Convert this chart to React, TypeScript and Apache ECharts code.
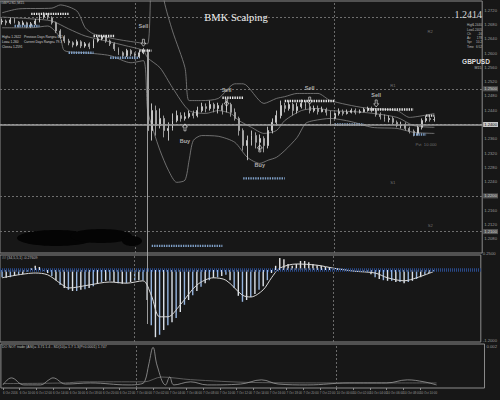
import React, { useEffect, useRef } from 'react';
import * as echarts from 'echarts';

const BG = '#171717';

// ---- time axis (M30 bars, weekend skipped after bar 80) ----
const firstBarUtc = Date.UTC(2016, 9, 6, 8, 0);
const barMinutes = 30;
const mondayBar = 80;
const slotCount = 116;
const pad = (n: number) => String(n).padStart(2, '0');
const categories: string[] = Array.from({ length: slotCount }, (_, i) => {
  const t = new Date(firstBarUtc + i * barMinutes * 60000 + (i >= mondayBar ? 2 * 86400000 : 0));
  return `${t.getUTCDate()} Oct ${pad(t.getUTCHours())}:${pad(t.getUTCMinutes())}`;
});
const daySeparators = [32, 80];
const lastLabelBar = 104;

// ---- price bars [open, close, low, high] ----
const bars: number[][] = [
  [1.2688, 1.2690, 1.2680, 1.2697], [1.2690, 1.2685, 1.2678, 1.2694], [1.2685, 1.2693, 1.2681, 1.2699],
  [1.2693, 1.2687, 1.2683, 1.2698], [1.2687, 1.2679, 1.2672, 1.2690], [1.2679, 1.2685, 1.2674, 1.2691],
  [1.2685, 1.2676, 1.2670, 1.2688], [1.2676, 1.2682, 1.2671, 1.2687], [1.2682, 1.2690, 1.2678, 1.2696],
  [1.2690, 1.2701, 1.2686, 1.2707], [1.2701, 1.2707, 1.2696, 1.2714], [1.2707, 1.2699, 1.2694, 1.2712],
  [1.2699, 1.2685, 1.2680, 1.2703], [1.2685, 1.2662, 1.2656, 1.2688], [1.2662, 1.2646, 1.2640, 1.2667],
  [1.2646, 1.2634, 1.2628, 1.2650], [1.2634, 1.2629, 1.2622, 1.2640], [1.2629, 1.2623, 1.2616, 1.2633],
  [1.2623, 1.2632, 1.2619, 1.2638], [1.2632, 1.2620, 1.2614, 1.2636], [1.2620, 1.2626, 1.2615, 1.2631],
  [1.2626, 1.2618, 1.2611, 1.2630], [1.2618, 1.2634, 1.2614, 1.2639], [1.2634, 1.2640, 1.2630, 1.2646],
  [1.2640, 1.2646, 1.2636, 1.2651], [1.2646, 1.2634, 1.2629, 1.2650], [1.2634, 1.2626, 1.2620, 1.2638],
  [1.2626, 1.2612, 1.2606, 1.2630], [1.2612, 1.2601, 1.2595, 1.2616], [1.2601, 1.2593, 1.2586, 1.2605],
  [1.2593, 1.2607, 1.2589, 1.2612], [1.2607, 1.2598, 1.2592, 1.2611], [1.2598, 1.2590, 1.2583, 1.2602],
  [1.2590, 1.2601, 1.2586, 1.2606], [1.2601, 1.2609, 1.2597, 1.2614], [1.2609, 1.2383, 1.1841, 1.2612],
  [1.2383, 1.2439, 1.2355, 1.2459], [1.2439, 1.2397, 1.2369, 1.2453], [1.2397, 1.2417, 1.2389, 1.2445],
  [1.2417, 1.2383, 1.2364, 1.2425], [1.2383, 1.2389, 1.2355, 1.2406], [1.2389, 1.2411, 1.2383, 1.2431],
  [1.2411, 1.2425, 1.2406, 1.2439], [1.2425, 1.2417, 1.2408, 1.2434], [1.2417, 1.2422, 1.2411, 1.2434],
  [1.2422, 1.2431, 1.2417, 1.2439], [1.2431, 1.2425, 1.2417, 1.2439], [1.2425, 1.2439, 1.2420, 1.2450],
  [1.2439, 1.2450, 1.2434, 1.2461], [1.2450, 1.2445, 1.2434, 1.2459], [1.2445, 1.2456, 1.2439, 1.2467],
  [1.2456, 1.2445, 1.2434, 1.2461], [1.2445, 1.2453, 1.2431, 1.2461], [1.2453, 1.2439, 1.2428, 1.2459],
  [1.2439, 1.2456, 1.2434, 1.2467], [1.2456, 1.2434, 1.2422, 1.2461], [1.2434, 1.2417, 1.2411, 1.2445],
  [1.2417, 1.2383, 1.2369, 1.2422], [1.2383, 1.2341, 1.2327, 1.2389], [1.2341, 1.2355, 1.2300, 1.2369],
  [1.2355, 1.2369, 1.2341, 1.2383], [1.2369, 1.2350, 1.2333, 1.2378], [1.2350, 1.2361, 1.2327, 1.2372],
  [1.2361, 1.2341, 1.2322, 1.2367], [1.2341, 1.2383, 1.2333, 1.2394], [1.2383, 1.2406, 1.2375, 1.2417],
  [1.2406, 1.2425, 1.2397, 1.2439], [1.2425, 1.2453, 1.2417, 1.2467], [1.2453, 1.2445, 1.2434, 1.2461],
  [1.2445, 1.2456, 1.2439, 1.2467], [1.2456, 1.2439, 1.2425, 1.2461], [1.2439, 1.2450, 1.2431, 1.2461],
  [1.2450, 1.2459, 1.2445, 1.2470], [1.2459, 1.2450, 1.2442, 1.2467], [1.2450, 1.2439, 1.2431, 1.2459],
  [1.2439, 1.2445, 1.2434, 1.2453], [1.2445, 1.2436, 1.2428, 1.2453], [1.2436, 1.2442, 1.2434, 1.2450],
  [1.2442, 1.2434, 1.2425, 1.2447], [1.2434, 1.2417, 1.2397, 1.2439], [1.2417, 1.2431, 1.2411, 1.2439],
  [1.2431, 1.2436, 1.2425, 1.2445], [1.2436, 1.2431, 1.2425, 1.2442], [1.2431, 1.2434, 1.2428, 1.2442],
  [1.2434, 1.2439, 1.2431, 1.2445], [1.2439, 1.2434, 1.2428, 1.2445], [1.2434, 1.2436, 1.2431, 1.2442],
  [1.2436, 1.2442, 1.2434, 1.2447], [1.2442, 1.2445, 1.2436, 1.2450], [1.2445, 1.2439, 1.2434, 1.2450],
  [1.2439, 1.2428, 1.2422, 1.2445], [1.2428, 1.2422, 1.2414, 1.2434], [1.2422, 1.2414, 1.2408, 1.2428],
  [1.2414, 1.2417, 1.2406, 1.2425], [1.2417, 1.2406, 1.2400, 1.2422], [1.2406, 1.2397, 1.2392, 1.2411],
  [1.2397, 1.2400, 1.2389, 1.2408], [1.2400, 1.2389, 1.2383, 1.2406], [1.2389, 1.2381, 1.2375, 1.2394],
  [1.2381, 1.2375, 1.2367, 1.2386], [1.2375, 1.2392, 1.2369, 1.2397], [1.2392, 1.2411, 1.2386, 1.2417],
  [1.2411, 1.2417, 1.2406, 1.2425], [1.2417, 1.2414, 1.2408, 1.2425], [1.2414, 1.2414, 1.2408, 1.2422],
];
const lastPrice = 1.2414;

// ---- bands, read at sample bars [bar, price] ----
const upperBand = [[0, 1.2713], [4, 1.2724], [12, 1.2726], [14, 1.2735], [18, 1.2718], [20, 1.2671], [22, 1.2654], [27, 1.264], [33, 1.2629], [35, 1.2626], [36, 1.2858], [37, 1.2913], [39, 1.2746], [41, 1.2662], [44, 1.2559], [45, 1.2467], [48, 1.2467], [52, 1.2473], [56, 1.2514], [58, 1.2514], [63, 1.2459], [66, 1.2473], [68, 1.2478], [71, 1.2487], [76, 1.2487], [79, 1.2467], [87, 1.2447], [95, 1.2439], [98, 1.242], [104, 1.2431]];
const middleBand = [[0, 1.2701], [7, 1.2696], [12, 1.269], [16, 1.2668], [20, 1.2648], [25, 1.2634], [30, 1.262], [34, 1.2607], [35, 1.2587], [38, 1.2559], [41, 1.2503], [45, 1.2439], [49, 1.2431], [52, 1.2439], [55, 1.2431], [57, 1.2411], [60, 1.2392], [63, 1.2375], [66, 1.2383], [68, 1.2411], [72, 1.2439], [76, 1.2445], [79, 1.2439], [87, 1.2434], [95, 1.242], [99, 1.2397], [104, 1.2392]];
const lowerBand = [[0, 1.2671], [7, 1.2671], [11, 1.2676], [14, 1.2643], [15, 1.2607], [20, 1.2601], [26, 1.2593], [31, 1.2573], [34, 1.2579], [35, 1.2439], [36, 1.2397], [38, 1.2327], [40, 1.2272], [42, 1.2238], [44, 1.2244], [45, 1.23], [46, 1.2355], [48, 1.2369], [52, 1.2367], [56, 1.235], [59, 1.2308], [62, 1.2291], [64, 1.23], [66, 1.2308], [68, 1.2327], [71, 1.2364], [73, 1.2403], [75, 1.2411], [79, 1.2417], [84, 1.2408], [89, 1.2392], [95, 1.2389], [99, 1.2378], [104, 1.2375]];

// ---- dotted level rows [fromBar, toBar, price] ----
const whiteRows = [[7, 16, 1.271], [22, 27, 1.2648], [33, 36, 1.2607], [53, 58, 1.2475], [68, 80, 1.2466], [88, 99, 1.2442], [102, 104, 1.2425]];
const blueRows = [[3, 9, 1.2676], [16, 22, 1.2601], [26, 33, 1.2587], [36, 53, 1.206], [58, 68, 1.2249], [80, 87, 1.24], [99, 102, 1.2372]];

// ---- pivot levels ----
const pivotNames = ['R2', 'R1', 'Pvt', 'S1', 'S2'];
const pivotValues = [1.2668, 1.2517, 1.2364, 1.2244, 1.2124];
const pivotBoxed = [false, true, true, true, true];
const pivotTagBars = [103, 94, -1, 94, 103];
const pivotNote = { bar: 102, price: 1.2350, text: 'Pvt  10.000' };

// ---- signals ----
const sellBars = [34, 54, 74, 90];
const sellArrow = [1.2629, 1.2461, 1.2467, 1.2459];
const sellText = [1.2676, 1.2498, 1.2503, 1.2484];
const buyBars = [44, 62];
const buyArrow = [1.2392, 1.2333];
const buyText = [1.2355, 1.2286];

// ---- oscillator panel ----
const histogram = [
  -0.12, -0.13, -0.12, -0.10, -0.08, -0.07, -0.03, 0.03, 0.07, 0.05,
  -0.01, -0.05, -0.10, -0.17, -0.25, -0.30, -0.33, -0.35, -0.35, -0.33,
  -0.32, -0.30, -0.27, -0.23, -0.20, -0.18, -0.18, -0.20, -0.22, -0.23,
  -0.22, -0.20, -0.18, -0.17, -0.17, -0.50, -0.92, -1.12, -1.08, -1.00,
  -0.92, -0.87, -0.80, -0.70, -0.58, -0.50, -0.42, -0.35, -0.28, -0.22,
  -0.17, -0.13, -0.12, -0.10, -0.08, -0.17, -0.30, -0.43, -0.53, -0.50,
  -0.45, -0.40, -0.33, -0.27, -0.17, -0.05, 0.07, 0.20, 0.18, 0.10,
  0.07, 0.10, 0.15, 0.15, 0.13, 0.10, 0.08, 0.07, 0.05, 0.05,
  0.03, 0.02, 0.02, 0.01, 0.00, -0.01, -0.02, -0.02, -0.03, -0.07,
  -0.12, -0.15, -0.17, -0.18, -0.18, -0.20, -0.20, -0.22, -0.20, -0.18,
  -0.15, -0.12, -0.08, -0.05, -0.02,
];
const signalLine = [[0, -0.13], [8, -0.05], [11, -0.08], [14, -0.22], [16, -0.3], [21, -0.25], [26, -0.2], [30, -0.22], [34, -0.18], [36, -0.42], [38, -0.78], [40, -0.78], [43, -0.58], [47, -0.25], [51, -0.13], [54, -0.17], [58, -0.42], [60, -0.45], [63, -0.33], [65, -0.13], [67, 0.03], [71, 0.1], [76, 0.08], [80, 0.03], [85, -0.02], [90, -0.05], [93, -0.13], [97, -0.18], [100, -0.13], [104, -0.03]];

// ---- bottom panel ----
const volatility = [[0, 0.00014], [2, 0.00046], [5, 0.00014], [9, 0.00014], [11, 0.00037], [12, 0.00046], [15, 0.00018], [21, 0.00023], [30, 0.00014], [33, 0.00018], [34, 0.0003], [35, 0.0011], [36, 0.00185], [37, 0.001], [39, 0.00014], [40, 0.0005], [41, 0.00014], [45, 0.00028], [49, 0.00014], [57, 0.00018], [62, 0.00037], [66, 0.00018], [73, 0.00014], [83, 0.00023], [92, 0.00023], [97, 0.00037], [101, 0.00028], [104, 0.00014]];
const volatilityAvg = [[0, 0.0002], [15, 0.00023], [19, 0.00028], [34, 0.00028], [38, 0.0005], [45, 0.00038], [60, 0.00025], [80, 0.00023], [104, 0.00023]];

// ---- info texts ----
const infoLeft = [['High= 1.2622', 'Previous Days Range= 602'], ['Low= 1.260', 'Current Days Range= 79.3'], ['Close= 1.2591', '']];
const infoTable = [['High', '1.2440'], ['Low', '1.2405'], ['Ch', '-16'], ['Av', '178'], ['Spr', '10.2'], ['Time', '6:52']];

const AXIS_TXT = '#9a9a9a';
const FONT = '"Liberation Sans", Arial, sans-serif';

function rowSeries(rows: number[][], color: string, name: string) {
  return rows.map((r, k) => ({
    name: `${name}${k}`,
    type: 'line',
    xAxisIndex: 0,
    yAxisIndex: 0,
    data: [[r[0], r[2]], [r[1], r[2]]],
    symbol: 'none',
    silent: true,
    lineStyle: { color, width: 2.4, type: [1.4, 1], cap: 'butt' },
    z: 4,
  }));
}

const downArrow = 'path://M3,0 L7,0 L7,6 L10,6 L5,11 L0,6 L3,6 Z';
const midText = (x: number, y: number, text: string, font: string, fill: string, align = 'left') => ({
  type: 'text', x, y, z: 100,
  style: { text, font, fill, align, textAlign: align, verticalAlign: 'middle', textVerticalAlign: 'middle' },
});

export default function App() {
  const ref = useRef<HTMLDivElement>(null);
  useEffect(() => {
    if (!ref.current) return;
    const chart = echarts.init(ref.current, undefined, { renderer: 'svg' });
    const sepLine = { color: '#6b6b6b', width: 1, type: [2, 2] };
    const pivotLine = { color: '#6e6e6e', width: 1, type: [2, 2] };
    const boxLabel = {
      show: true, position: 'end', distance: 1, fontSize: 4.2, fontFamily: FONT,
      color: '#d0d0d0', backgroundColor: '#555', padding: [0.5, 1],
      formatter: (p: any) => Number(p.value).toFixed(4),
    };
    const markData: any[] = [
      ...daySeparators.map((b) => ({ xAxis: b, lineStyle: sepLine, label: { show: false } })),
      ...pivotValues.map((v, k) => ({
        yAxis: v, lineStyle: pivotLine, label: pivotBoxed[k] ? boxLabel : { show: false },
      })),
      {
        yAxis: lastPrice,
        lineStyle: { color: '#a2a2a2', width: 1.6, type: 'solid' },
        label: { ...boxLabel, color: '#111', backgroundColor: '#c9c9c9' },
      },
    ];
    const option: any = {
      animation: false,
      backgroundColor: BG,
      grid: [
        { left: 0, right: 12, top: 1, height: 252, show: true, borderColor: '#8c8c8c', borderWidth: 1 },
        { left: 0, right: 12, top: 255, height: 87, show: true, borderColor: '#8c8c8c', borderWidth: 1 },
        { left: 0, right: 12, top: 344, height: 44, show: true, borderColor: '#8c8c8c', borderWidth: 1 },
      ],
      xAxis: [0, 1, 2].map((g) => ({
        type: 'category',
        gridIndex: g,
        data: categories,
        boundaryGap: true,
        axisLine: { show: false },
        splitLine: { show: false },
        axisTick: {
          show: g === 2, length: 2, alignWithLabel: true,
          interval: (i: number) => i % 4 === 0 && i <= lastLabelBar,
          lineStyle: { color: '#8c8c8c' },
        },
        axisLabel: {
          show: g === 2, fontSize: 3, color: AXIS_TXT, fontFamily: FONT, align: 'left', margin: 3,
          interval: (i: number) => i % 4 === 0 && i <= lastLabelBar,
          formatter: (v: string, i: number) => (i === 0 ? '6 Oct 2016' : v),
        },
      })),
      yAxis: [
        {
          type: 'value', gridIndex: 0, position: 'right', min: 1.204, max: 1.2746, interval: 0.004,
          splitLine: { show: false }, axisLine: { show: false }, axisTick: { show: false },
          axisLabel: {
            fontSize: 4.2, color: AXIS_TXT, fontFamily: FONT, margin: 2, showMaxLabel: false, showMinLabel: false,
            formatter: (v: number) => v.toFixed(4),
          },
        },
        {
          type: 'value', gridIndex: 1, position: 'right', min: -1.2, max: 0.25, interval: 1.45,
          splitLine: { show: false }, axisLine: { show: false }, axisTick: { show: false },
          axisLabel: { fontSize: 4.2, color: AXIS_TXT, fontFamily: FONT, margin: 2, verticalAlign: 'bottom', formatter: (v: number) => v.toFixed(4) },
        },
        {
          type: 'value', gridIndex: 2, position: 'right', min: 0, max: 0.002, interval: 0.002,
          splitLine: { show: false }, axisLine: { show: false }, axisTick: { show: false },
          axisLabel: { fontSize: 4.2, color: AXIS_TXT, fontFamily: FONT, margin: 2, verticalAlign: 'top', showMinLabel: false, formatter: (v: number) => v.toFixed(3) },
        },
      ],
      series: [
        {
          name: 'GBPUSD', type: 'candlestick', xAxisIndex: 0, yAxisIndex: 0, data: bars, barWidth: 1.4, clip: true,
          itemStyle: { color: '#cfcfcf', color0: '#a9a9a9', borderColor: '#cfcfcf', borderColor0: '#a9a9a9', borderWidth: 0.9 },
          markLine: { silent: true, symbol: ['none', 'none'], data: markData },
          z: 3,
        },
        ...[upperBand, middleBand, lowerBand].map((d, k) => ({
          name: ['Upper', 'Middle', 'Lower'][k], type: 'line', xAxisIndex: 0, yAxisIndex: 0, data: d,
          symbol: 'none', smooth: 0.25, clip: true, silent: true,
          lineStyle: { color: '#858585', width: 0.8 }, z: 2,
        })),
        ...rowSeries(whiteRows, '#e6e6e6', 'w'),
        ...rowSeries(blueRows, '#7fa0c8', 'b'),
        {
          name: 'sellArrows', type: 'scatter', xAxisIndex: 0, yAxisIndex: 0,
          data: sellBars.map((b, k) => [b, sellArrow[k]]),
          symbol: downArrow, symbolSize: [5, 7], silent: true,
          itemStyle: { color: 'rgba(0,0,0,0)', borderColor: '#e8e8e8', borderWidth: 0.8 }, z: 6,
        },
        {
          name: 'buyArrows', type: 'scatter', xAxisIndex: 0, yAxisIndex: 0,
          data: buyBars.map((b, k) => [b, buyArrow[k]]),
          symbol: downArrow, symbolRotate: 180, symbolSize: [5, 7], silent: true,
          itemStyle: { color: 'rgba(0,0,0,0)', borderColor: '#e8e8e8', borderWidth: 0.8 }, z: 6,
        },
        {
          name: 'signalText', type: 'scatter', xAxisIndex: 0, yAxisIndex: 0,
          data: [
            ...sellBars.map((b, k) => ({ value: [b, sellText[k]], name: 'Sell' })),
            ...buyBars.map((b, k) => ({ value: [b, buyText[k]], name: 'Buy' })),
          ],
          symbolSize: 1, silent: true, itemStyle: { color: 'rgba(0,0,0,0)' },
          label: { show: true, position: 'inside', formatter: '{b}', color: '#d6d6d6', fontSize: 5.5, fontFamily: FONT, fontWeight: 'bold' },
          z: 6,
        },
        {
          name: 'pivotTags', type: 'scatter', xAxisIndex: 0, yAxisIndex: 0,
          data: [
            ...pivotNames
              .map((n, k) => ({ value: [pivotTagBars[k], pivotValues[k]], name: n }))
              .filter((d) => d.value[0] >= 0),
            { value: [pivotNote.bar, pivotNote.price], name: pivotNote.text },
          ],
          symbolSize: 1, silent: true, itemStyle: { color: 'rgba(0,0,0,0)' },
          label: { show: true, position: 'bottom', distance: 0, formatter: '{b}', color: '#8a8a8a', fontSize: 4.2, fontFamily: FONT },
          z: 6,
        },
        {
          name: 'Osc', type: 'bar', xAxisIndex: 1, yAxisIndex: 1, data: histogram, barWidth: 1.4, silent: true,
          itemStyle: {
            color: (p: any) => (p.value >= 0 ? '#e4e4e4' : p.dataIndex % 2 === 0 ? '#97b6e0' : '#dde3ea'),
          },
          markLine: {
            silent: true, symbol: ['none', 'none'],
            data: [
              { yAxis: 0, lineStyle: { color: '#2a4a8a', width: 3.5, type: [1, 1] }, label: { show: false } },
              ...daySeparators.map((b) => ({ xAxis: b, lineStyle: sepLine, label: { show: false } })),
            ],
          },
          z: 3,
        },
        {
          name: 'OscSignal', type: 'line', xAxisIndex: 1, yAxisIndex: 1, data: signalLine, symbol: 'none', smooth: 0.3,
          silent: true, lineStyle: { color: '#d8d8d8', width: 1 }, z: 4,
        },
        {
          name: 'Volatility', type: 'line', xAxisIndex: 2, yAxisIndex: 2, data: volatility, symbol: 'none', smooth: 0.4,
          silent: true, clip: true, lineStyle: { color: '#9a9a9a', width: 0.8 }, z: 4,
          markLine: {
            silent: true, symbol: ['none', 'none'],
            data: daySeparators.map((b) => ({ xAxis: b, lineStyle: sepLine, label: { show: false } })),
          },
        },
        {
          name: 'VolatilityAvg', type: 'line', xAxisIndex: 2, yAxisIndex: 2, data: volatilityAvg, symbol: 'none', smooth: 0.3,
          silent: true, lineStyle: { color: '#6f6f6f', width: 0.8 }, z: 3,
        },
      ],
      graphic: [
        { type: 'ellipse', shape: { cx: 56, cy: 238, rx: 39, ry: 8 }, style: { fill: '#040404' }, z: 100 },
        { type: 'ellipse', shape: { cx: 101, cy: 236, rx: 31, ry: 7 }, style: { fill: '#040404' }, z: 100 },
        { type: 'ellipse', shape: { cx: 132, cy: 241, rx: 10, ry: 5 }, style: { fill: '#040404' }, z: 100 },
        midText(236, 17, 'BMK Scalping', '10.5px "Liberation Serif", serif', '#f2f2f2', 'center'),
        midText(1, 3, 'GBPUSD,M15', `3.6px ${FONT}`, '#bdbdbd'),
        ...infoLeft.flatMap((r, k) => [
          midText(2, 37 + k * 5, r[0], `3.2px ${FONT}`, '#cfcfcf'),
          ...(r[1] ? [midText(24, 37 + k * 5, r[1], `3.2px ${FONT}`, '#cfcfcf')] : []),
        ]),
        midText(482, 14, '1.2414', '10px "Liberation Serif", serif', '#d8d8d8', 'right'),
        ...infoTable.flatMap((r, k) => [
          midText(467, 25 + k * 4.3, r[0], `3.1px ${FONT}`, '#bcbcbc'),
          midText(482, 25 + k * 4.3, r[1], `3.1px ${FONT}`, '#bcbcbc', 'right'),
        ]),
        midText(476, 61, 'GBPUSD', `bold 6.5px ${FONT}`, '#dedede', 'center'),
        midText(478, 68, 'M15', `3.6px ${FONT}`, '#bcbcbc', 'center'),
        midText(2, 258, '## (34,5,5,1) -0.27609', `3.6px ${FONT}`, '#bdbdbd'),
        midText(2, 347, 'DO NOT trade (ASI)= 3.71 1.4 - SD(10)= 1.7 1.3(Pt:0.0001) 1.747', `3.6px ${FONT}`, '#bdbdbd'),
      ],
    };
    chart.setOption(option);
    return () => chart.dispose();
  }, []);
  return <div ref={ref} style={{ position: 'absolute', left: 0, top: 0, width: 500, height: 400, background: BG }} />;
}
